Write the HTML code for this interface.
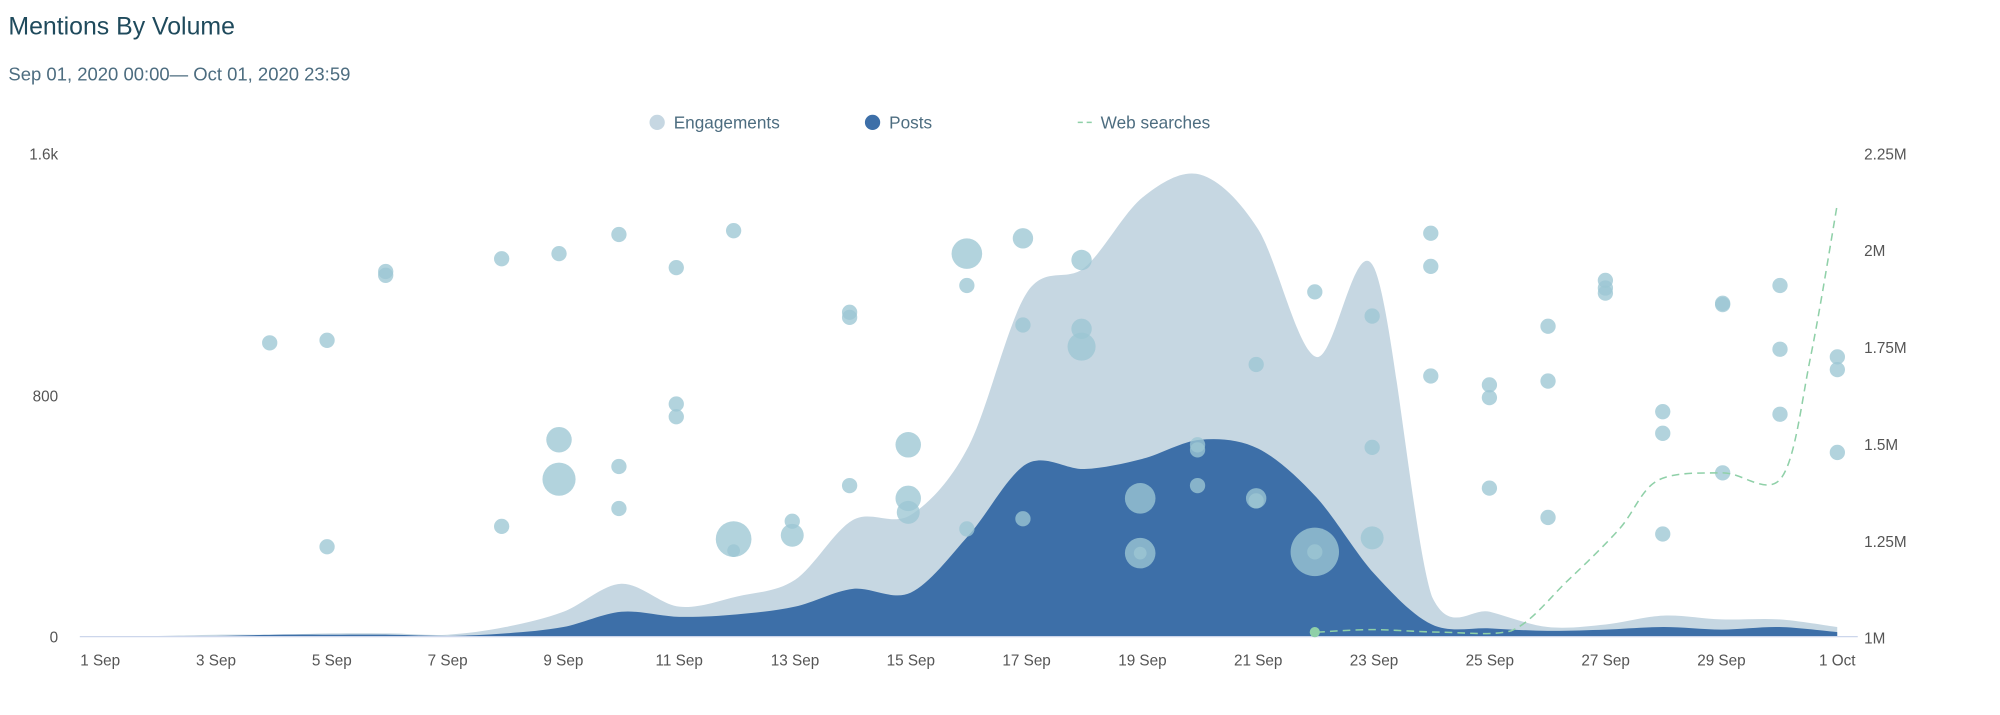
<!DOCTYPE html>
<html><head><meta charset="utf-8"><style>
html,body{margin:0;padding:0;background:#fff;width:2000px;height:715px;overflow:hidden}
svg{display:block}
text{font-family:"Liberation Sans",sans-serif}
</style></head><body>
<svg id="s" width="2000" height="715" viewBox="0 0 1568 561" xmlns="http://www.w3.org/2000/svg">
<text x="6" y="27" font-size="19.5" fill="#1f4a5c">Mentions By Volume</text>
<text x="6" y="63" font-size="14.5" fill="#4d6d80">Sep 01, 2020 00:00— Oct 01, 2020 23:59</text>
<circle cx="515" cy="96" r="6" fill="#c6d7e2"/>
<text x="528" y="101" font-size="13.5" fill="#4d6d80">Engagements</text>
<circle cx="684" cy="96" r="6" fill="#3d6fa8"/>
<text x="697" y="101" font-size="13.5" fill="#4d6d80">Posts</text>
<line x1="845" y1="96" x2="858" y2="96" stroke="#8fd0a8" stroke-width="1.2" stroke-dasharray="4,3"/>
<text x="863" y="101" font-size="13.5" fill="#4d6d80">Web searches</text>
<g font-size="12" fill="#555" text-anchor="end">
<text x="45" y="125">1.6k</text><text x="45" y="315">800</text><text x="45" y="504">0</text>
</g>
<g font-size="12" fill="#555">
<text x="1462" y="125">2.25M</text><text x="1462" y="201">2M</text><text x="1462" y="277">1.75M</text>
<text x="1462" y="353">1.5M</text><text x="1462" y="429">1.25M</text><text x="1462" y="505">1M</text>
</g>
<g id="areas"></g>
<line x1="62" y1="499.5" x2="1457" y2="499.5" stroke="#ccd6eb" stroke-width="1"/>
<g id="bub" fill="#9cc6d3" fill-opacity="0.78"></g>
<g id="ticks" font-size="12" fill="#555" text-anchor="middle"></g>
</svg>
<script>
var NS="http://www.w3.org/2000/svg";
function X(d){return 78+45.43*(d-1);}
function cr(pts){var s="M"+pts[0][0]+","+pts[0][1];for(var i=0;i<pts.length-1;i++){var p0=pts[i-1]||pts[i],p1=pts[i],p2=pts[i+1],p3=pts[i+2]||p2;var t=0.16;var c1x=p1[0]+(p2[0]-p0[0])*t,c1y=p1[1]+(p2[1]-p0[1])*t,c2x=p2[0]-(p3[0]-p1[0])*t,c2y=p2[1]-(p3[1]-p1[1])*t;c1y=Math.min(c1y,499);c2y=Math.min(c2y,499);s+=" C"+c1x+","+c1y+" "+c2x+","+c2y+" "+p2[0]+","+p2[1];}return s;}
function mk(tag,at,par){var e=document.createElementNS(NS,tag);for(var k in at)e.setAttribute(k,at[k]);(par||document.getElementById("s")).appendChild(e);return e;}
var eng=[499,499,498,498,497,497,498,492,480,458,476,468,455,408,404,350,230,210,155,137,180,280,210,468,480,492,490,483,486,486,492];
var pos=[499,499,499,498,498,498,499,497,492,480,484,482,476,462,465,420,364,368,360,345,352,390,450,490,493,495,494,492,494,492,496];
function pts(a){return a.map(function(v,i){return [X(i+1),v];});}
var A=document.getElementById("areas");
mk("path",{d:cr(pts(eng))+" L"+X(31)+",499 L"+X(1)+",499 Z",fill:"#c6d7e2"},A);
mk("path",{d:cr(pts(pos))+" L"+X(31)+",499 L"+X(1)+",499 Z",fill:"#3d6fa8"},A);
var ws=[[1033,496],[1076,494],[1130,496],[1185,495],[1230,455],[1270,415],[1300,377],[1351,371],[1397,375],[1420,280],[1441,160]];
mk("path",{d:cr(ws),fill:"none",stroke:"#8fd0a8","stroke-width":1.2,"stroke-dasharray":"6,4"});
mk("circle",{cx:1031,cy:496,r:4,fill:"#8fd0a8"});
var B=[[211,269],[256,267],[256,429],[302,213],[302,216],[393,203],[393,413],[438,199],[438,345,10],[438,376,13],[485,184],[485,366],[485,399],[530,210],[530,317],[530,327],[575,181],[575,423,14],[575,432,5],[621,409],[621,420,9],[666,245],[666,249],[666,381],[712,349,10],[712,391,10],[712,402,9],[758,199,12],[758,224],[758,415],[802,187,8],[802,255],[802,407],[848,204,8],[848,258,8],[848,272,11],[894,391,12],[894,434,12],[894,434,5],[939,349],[939,353],[939,381],[985,286],[985,391,8],[985,393],[1031,229],[1031,433,19],[1031,433,6],[1076,248],[1076,351],[1076,422,9],[1122,183],[1122,209],[1122,295],[1168,302],[1168,312],[1168,383],[1214,256],[1214,299],[1214,406],[1259,220],[1259,226],[1259,230],[1304,323],[1304,340],[1304,419],[1351,238],[1351,239],[1351,371],[1396,224],[1396,274],[1396,325],[1441,280],[1441,290],[1441,355]];
var G=document.getElementById("bub");
B.forEach(function(b){mk("circle",{cx:b[0],cy:b[1],r:b[2]||6},G);});
var T=document.getElementById("ticks");
var lab=["1 Sep","3 Sep","5 Sep","7 Sep","9 Sep","11 Sep","13 Sep","15 Sep","17 Sep","19 Sep","21 Sep","23 Sep","25 Sep","27 Sep","29 Sep","1 Oct"];
lab.forEach(function(l,i){var t=mk("text",{x:X(1+2*i),y:522},T);t.textContent=l;});
</script>
</body></html>
